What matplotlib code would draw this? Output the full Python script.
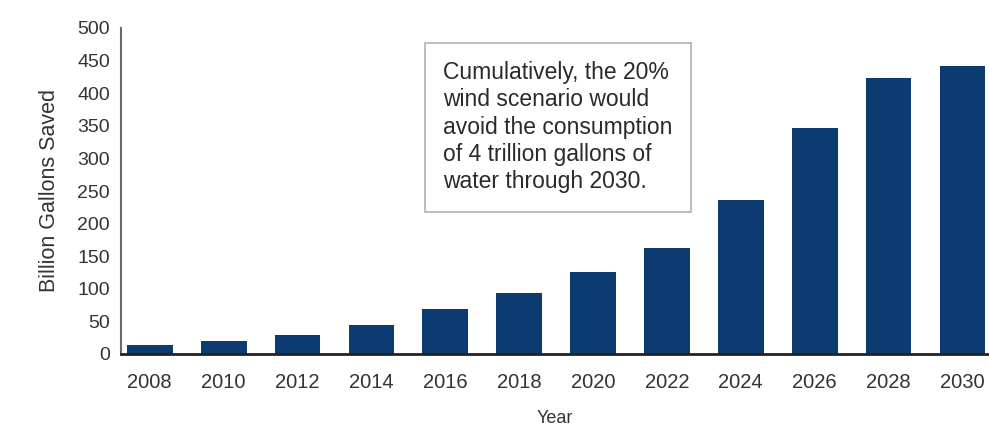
import matplotlib.pyplot as plt

plt.rcParams['font.family'] = ['Liberation Sans', 'DejaVu Sans']

# data
years = ['2008', '2010', '2012', '2014', '2016', '2018',
         '2020', '2022', '2024', '2026', '2028', '2030']
gallons_saved = [14, 20, 29, 45, 69, 94, 126, 162, 236, 346, 424, 441]
note = ('Cumulatively, the 20%\nwind scenario would\navoid the consumption\n'
        'of 4 trillion gallons of\nwater through 2030.')

fig = plt.figure(figsize=(9.89, 4.28), dpi=100)
ax = fig.add_axes([121 / 989, 1 - 354 / 428, 868 / 989, 326 / 428])

x = range(len(years))
ax.bar(x, gallons_saved, width=0.62, color='#0b3b71')

ax.set_xlim(-0.39, 11.36)
ax.set_ylim(0, 500)
ax.set_yticks(range(0, 501, 50))
ax.set_xticks(list(x))
ax.set_xticklabels(years)

for s in ['top', 'right']:
    ax.spines[s].set_visible(False)
ax.spines['left'].set_color('#6a6a6a')
ax.spines['left'].set_linewidth(1.5)
ax.spines['bottom'].set_color('#222222')
ax.spines['bottom'].set_linewidth(2)

ax.tick_params(axis='x', length=0, pad=14, labelsize=14.5, labelcolor='#333333')
ax.tick_params(axis='y', length=0, pad=8, labelsize=14, labelcolor='#333333')

ax.set_ylabel('Billion Gallons Saved', fontsize=15.5, color='#333333')
ax.yaxis.set_label_coords(-0.070, 0.5)
ax.set_xlabel('Year', fontsize=13, color='#333333')
ax.xaxis.set_label_coords(0.5, -0.172)

fig.text(443 / 989, 1 - 61 / 428, note, fontsize=16.5, color='#2a2a2a',
         ha='left', va='top', linespacing=1.24,
         bbox=dict(boxstyle='square,pad=0.8', fc='white', ec='#b0b0b0', lw=1.2))

fig.savefig('out.png', dpi=100)
